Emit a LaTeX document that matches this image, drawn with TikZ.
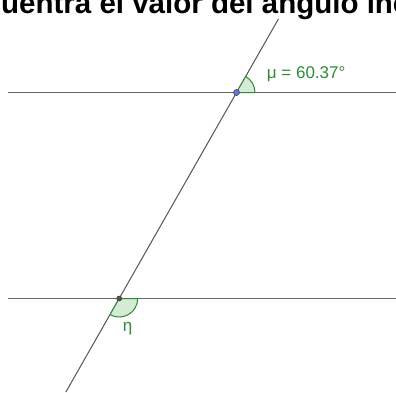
\documentclass[tikz,border=0pt]{standalone}
\usepackage{fontspec}
\setmainfont{Liberation Sans}
\usepackage{tikz}
\usetikzlibrary{positioning,calc}
\definecolor{gris}{HTML}{666666}
\definecolor{grisosc}{HTML}{555555}
\definecolor{verde}{HTML}{2E8B34}
\definecolor{verdeclaro}{HTML}{D5EBD6}
\definecolor{azulpto}{HTML}{6E6EF0}
\tikzset{
  recta/.style={draw=gris,line width=1.1pt},
  secante/.style={draw=grisosc,line width=1pt},
  angulo/.style={draw=verde,fill=verdeclaro,line width=1pt,line join=round},
  punto/.style={circle,draw=black!80,line width=0.5pt,inner sep=0pt,minimum size=6pt},
  etiqueta/.style={font=\fontsize{17}{18}\selectfont,text=verde,inner sep=0pt},
  titulo/.style={font=\bfseries\fontsize{29.5}{30}\selectfont,inner sep=0pt},
}

\begin{document}
\begin{tikzpicture}[x=1pt,y=1pt]
  \useasboundingbox (0,0) rectangle (396,392);
  % rectas paralelas y secante
  \coordinate (r1i) at (8,299.5);
  \coordinate (r1d) at (396,299.5);
  \coordinate (r2i) at (8,93.5);
  \coordinate (r2d) at (396,93.5);
  \coordinate (A) at (236.5,299.5);
  \coordinate (B) at (119.2,93.5);
  \coordinate (sa) at (278.4,373);
  \coordinate (sb) at (65.9,0);
  \node[titulo,anchor=base west] (titulo) at (1,378) {uentra el valor del ángulo inc};
  \draw[recta] (r1i) -- (r1d);
  \draw[recta] (r2i) -- (r2d);
  \draw[secante] (sb) -- (sa);
  % angulos
  \draw[angulo] (A) -- ++(0:18.5) arc[start angle=0,end angle=60.37,radius=18.5] -- cycle;
  \draw[angulo] (B) -- ++(240.37:18.5) arc[start angle=240.37,end angle=360,radius=18.5] -- cycle;
  \node[punto,fill=azulpto] (p1) at (A) {};
  \node[punto,fill=grisosc,minimum size=5pt] (p2) at (B) {};
  \node[etiqueta,anchor=base west] (mu) at (266.7,313.7) {μ = 60.37°};
  \node[etiqueta,anchor=base] (eta) at (127.5,61) {η};
\end{tikzpicture}
\end{document}
